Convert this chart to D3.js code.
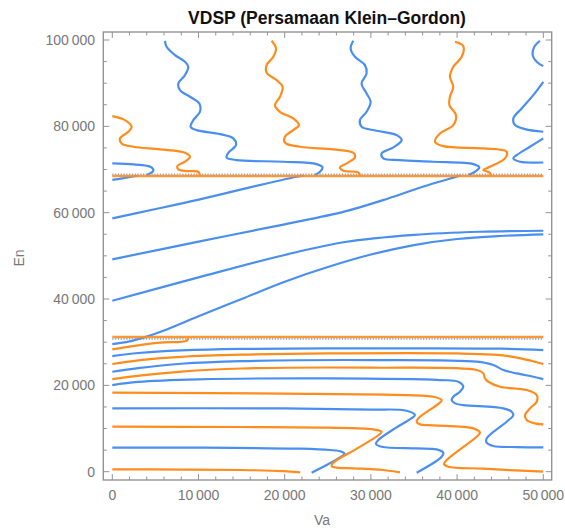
<!DOCTYPE html>
<html>
<head>
<meta charset="utf-8">
<script src="https://cdn.jsdelivr.net/npm/d3@7"></script>
<style>
  body { margin: 0; background: #fff; }
  svg { font-family: "Liberation Sans", Arial, sans-serif; }
</style>
</head>
<body>
<div id="chart"></div>
<script>
// axis ticks
const xMajor = [0, 10000, 20000, 30000, 40000, 50000];
const yMajor = [0, 20000, 40000, 60000, 80000, 100000];
const xMinorStep = 2000;
const yMinorStep = 5000;

// singular levels (horizontal lines)
const orangeLevels = [68500, 31200];
const blueDotLevels = [68850, 30750];

// blue contours, points are [Va, En]
const blueContours = [
  [[0,5560],[10000,5560],[21770,5330],[25250,5020],[26600,4630],[26950,4090],[26410,3320],[24860,1540],[23120,-230]],
  [[0,14670],[20000,14670],[30000,14400],[34150,14130],[35110,13120],[34700,12350],[32990,10270],[30860,7330],[30590,6410],[31240,5790],[35310,5400],[37630,5170],[38400,4400],[38210,3470],[35310,-230]],
  [[0,20070],[3000,20800],[10000,21380],[25000,21620],[38000,21230],[40140,20840],[40720,19690],[40330,18530],[39560,17370],[39370,16600],[39750,15830],[40720,15440],[45360,14670],[46330,13900],[46520,13120],[45750,11580],[43430,7720],[43430,6720],[44200,5940],[46910,5710],[50000,5640]],
  [[0,23160],[3000,24000],[8000,25000],[15000,25600],[30000,25860],[42270,25480],[44200,24700],[45360,23550],[46910,22770],[48840,22000],[50000,21460]],
  [[0,26790],[3000,27500],[8000,28100],[15000,28450],[30000,28560],[45000,28500],[50000,28180]],
  [[0,29570],[2000,30200],[4000,31300],[6000,32700],[10000,36000],[15000,40000],[20000,44000],[25000,47400],[30000,50300],[35000,52500],[40000,53900],[45000,54600],[50000,54980]],
  [[0,39600],[10000,45000],[20000,50200],[27000,53200],[35000,54850],[42650,55580],[50000,55820]],
  [[0,49190],[10000,53300],[20000,57300],[27000,60300],[32000,63300],[36000,66000],[39000,67800],[40400,68600]],
  [[0,58690],[4370,60560],[10170,63090],[15970,65870],[21390,68320],[22160,68600]],
  [[0,67600],[1200,67950],[2240,68320],[3000,68550]],
  [[0,71410],[2440,71180],[3980,70870],[4560,70480],[4760,69710],[4370,69090],[3980,68710]],
  [[6110,99820],[6300,98430],[7270,96500],[8430,94960],[8820,93800],[8430,91870],[7660,89940],[7850,88390],[9010,86850],[10090,85310],[10170,83370],[9400,81450],[9090,79900],[9780,79130],[12490,78200],[14040,77200],[14350,75660],[13460,73880],[13260,72800],[14420,72180],[19840,71800],[23700,71260],[24400,70480],[24090,69480],[23510,68710]],
  [[27960,99820],[27650,98040],[28150,96110],[29310,94180],[29500,92250],[28920,89940],[29500,87620],[29970,85690],[29500,83370],[28730,81450],[28920,79900],[30660,78980],[32990,77970],[33570,76810],[32600,75110],[31240,73730],[31440,72570],[33370,72180],[37240,71800],[41880,71260],[42580,70480],[42070,69480],[41300,68710]],
  [[49610,99820],[48960,98430],[48760,96500],[49230,94960],[50000,93950]],
  [[50000,90320],[48840,87240],[47490,84150],[46520,81830],[46720,80290],[47880,79360],[50000,78740]],
  [[50000,77200],[48450,75270],[46910,73340],[46520,72570],[47300,71800],[50000,71640]]
];

// orange contours
const orangeContours = [
  [[0,540],[8000,490],[15000,390],[19800,150],[21800,-150]],
  [[0,10420],[15000,10350],[25000,10200],[30280,9800],[31240,9260],[30900,8500],[28420,5400],[25640,2080],[25440,1310],[26020,930],[27960,770],[31440,390],[33370,-150]],
  [[0,18300],[20000,18100],[34150,17760],[37240,17370],[38210,16600],[37900,15830],[35500,12350],[35310,11580],[35700,10960],[37240,10730],[41880,10040],[42650,9030],[42270,8110],[38790,2700],[38480,1780],[38980,1160],[43040,700],[50000,0]],
  [[0,21460],[3000,22200],[8000,23200],[15000,23900],[30000,24090],[42270,23550],[43040,22770],[43230,21620],[43620,20840],[44970,19690],[48070,18910],[49230,17760],[49230,16210],[48450,14670],[47880,13120],[48070,11970],[49000,11200],[50000,10960]],
  [[0,24940],[3000,25800],[8000,26600],[15000,27100],[25000,27390],[40000,27390],[45000,27000],[47500,26200],[50000,24940]],
  [[0,28330],[2440,29100],[5530,29880],[8620,30340],[8820,30900]],
  [[0,82370],[1470,81450],[2240,79900],[1860,78740],[890,77200],[1080,76040],[2440,75270],[5530,74650],[8430,73880],[9010,72950],[8430,71800],[7540,70790],[7660,70020],[8620,69630],[9980,69480],[10170,68550]],
  [[18480,99820],[18990,98040],[18680,96110],[17900,94180],[17900,92410],[19060,90710],[19760,89170],[19450,86850],[18870,84920],[19450,83370],[21000,81830],[21650,80290],[20990,79130],[20030,77590],[20030,76200],[21770,75270],[25640,74650],[27960,73880],[28150,72800],[27190,71410],[26410,70480],[26800,69710],[28540,69320],[28730,68550]],
  [[39750,99590],[40720,98580],[40530,96110],[39560,93800],[39170,91480],[39560,89170],[39170,86850],[39100,84920],[39870,82600],[39560,80290],[38010,78360],[37430,76430],[38400,75420],[43040,74880],[45750,74110],[45550,72570],[43810,70640],[43040,69870],[43810,69250],[43890,68550]]
];

const width = 565, height = 530;
const blue = "#4a8ff0", orange = "#ff8c1c";
const frameColor = "#939393", labelColor = "#777";

const x = d3.scaleLinear().domain([0, 50000]).range([112.3, 543.3]);
const y = d3.scaleLinear().domain([0, 100000]).range([471.7, 40]);
const frame = { left: 103.3, right: 551.7, top: 32, bottom: 480 };

const svg = d3.select("#chart").append("svg")
  .attr("width", width)
  .attr("height", height);

svg.append("clipPath").attr("id", "clip")
  .append("rect")
  .attr("x", frame.left).attr("y", frame.top)
  .attr("width", frame.right - frame.left)
  .attr("height", frame.bottom - frame.top);

const plot = svg.append("g").attr("clip-path", "url(#clip)");

// dotted blue singular lines
plot.selectAll("line.bdot")
  .data(blueDotLevels)
  .enter().append("line")
  .attr("x1", x(0)).attr("x2", x(50000))
  .attr("y1", d => y(d)).attr("y2", d => y(d))
  .attr("stroke", blue)
  .attr("stroke-width", 1.8)
  .attr("stroke-dasharray", "1.2 1.6")
  .attr("opacity", 0.75);

const line = d3.line()
  .x(d => x(d[0]))
  .y(d => y(d[1]))
  .curve(d3.curveCatmullRom.alpha(0.5));

plot.selectAll("path.blue")
  .data(blueContours)
  .enter().append("path")
  .attr("class", "blue")
  .attr("d", line)
  .attr("fill", "none")
  .attr("stroke", blue)
  .attr("stroke-width", 2.2)
  .attr("stroke-linejoin", "round");

plot.selectAll("path.orange")
  .data(orangeContours)
  .enter().append("path")
  .attr("class", "orange")
  .attr("d", line)
  .attr("fill", "none")
  .attr("stroke", orange)
  .attr("stroke-width", 2.2)
  .attr("stroke-linejoin", "round");

// solid orange singular lines
plot.selectAll("line.olev")
  .data(orangeLevels)
  .enter().append("line")
  .attr("x1", x(0)).attr("x2", x(50000))
  .attr("y1", d => y(d)).attr("y2", d => y(d))
  .attr("stroke", orange)
  .attr("stroke-width", 2.6)
  .attr("opacity", 0.9);

// frame
svg.append("rect")
  .attr("x", frame.left).attr("y", frame.top)
  .attr("width", frame.right - frame.left)
  .attr("height", frame.bottom - frame.top)
  .attr("fill", "none")
  .attr("stroke", frameColor)
  .attr("stroke-width", 1.4);

// ticks on all four sides (inward)
const xMinor = d3.range(0, 50001, xMinorStep).filter(v => !xMajor.includes(v));
const yMinor = d3.range(0, 100001, yMinorStep).filter(v => !yMajor.includes(v));
const ticks = svg.append("g").attr("stroke", frameColor).attr("stroke-width", 1);

function tickSet(vals, len) {
  vals.forEach(v => {
    ticks.append("line").attr("x1", x(v)).attr("x2", x(v)).attr("y1", frame.bottom).attr("y2", frame.bottom - len);
    ticks.append("line").attr("x1", x(v)).attr("x2", x(v)).attr("y1", frame.top).attr("y2", frame.top + len);
  });
}
function tickSetY(vals, len) {
  vals.forEach(v => {
    ticks.append("line").attr("y1", y(v)).attr("y2", y(v)).attr("x1", frame.left).attr("x2", frame.left + len);
    ticks.append("line").attr("y1", y(v)).attr("y2", y(v)).attr("x1", frame.right).attr("x2", frame.right - len);
  });
}
tickSet(xMajor, 6); tickSet(xMinor, 3.5);
tickSetY(yMajor, 6); tickSetY(yMinor, 3.5);

const fmt = v => d3.format(",")(v).replace(/,/g, "\u2009");

svg.append("g").selectAll("text")
  .data(xMajor)
  .enter().append("text")
  .attr("x", d => x(d))
  .attr("y", 500)
  .attr("text-anchor", "middle")
  .attr("font-size", 14)
  .attr("fill", labelColor)
  .text(fmt);

svg.append("g").selectAll("text")
  .data(yMajor)
  .enter().append("text")
  .attr("x", 95)
  .attr("y", d => y(d) + 5)
  .attr("text-anchor", "end")
  .attr("font-size", 14)
  .attr("fill", labelColor)
  .text(fmt);

// axis labels + title
svg.append("text")
  .attr("x", 322).attr("y", 525)
  .attr("text-anchor", "middle")
  .attr("font-size", 14)
  .attr("fill", labelColor)
  .text("Va");

svg.append("text")
  .attr("transform", "translate(24,258) rotate(-90)")
  .attr("text-anchor", "middle")
  .attr("font-size", 14)
  .attr("fill", labelColor)
  .text("En");

svg.append("text")
  .attr("x", 327).attr("y", 24)
  .attr("text-anchor", "middle")
  .attr("font-size", 17.5)
  .attr("font-weight", "bold")
  .attr("fill", "#111")
  .text("VDSP (Persamaan Klein\u2013Gordon)");
</script>
</body>
</html>
